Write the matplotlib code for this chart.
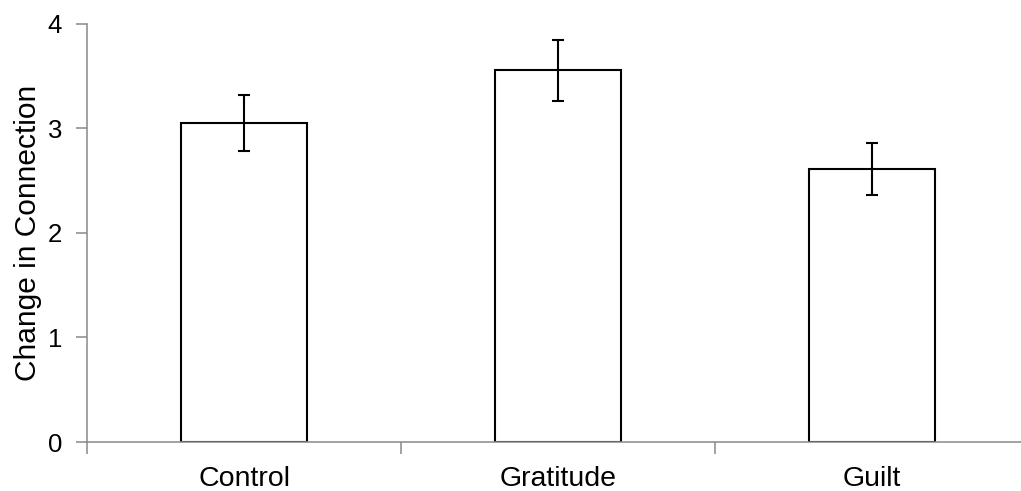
import matplotlib.pyplot as plt

plt.rcParams['font.family'] = ['Liberation Sans', 'DejaVu Sans']

categories = ["Control", "Gratitude", "Guilt"]
means = [3.05, 3.555, 2.61]
errors = [0.265, 0.29, 0.245]

axis_grey = "#898989"

fig = plt.figure(figsize=(10.21, 4.91), dpi=100)
ax = fig.add_axes([87 / 1021, 49 / 491, 942 / 1021, 418.3 / 491])

x = list(range(len(categories)))
ax.bar(x, means, width=0.4, color="white", edgecolor="black", linewidth=1.5, zorder=2)
ax.errorbar(x, means, yerr=errors, fmt="none", ecolor="black", elinewidth=1.5,
            capsize=4.5, capthick=1.5, zorder=3)

ax.set_xlim(-0.5, 2.5)
ax.set_ylim(0, 4)
ax.set_yticks([0, 1, 2, 3, 4])

# category labels sit between the boundary ticks
ax.set_xticks([-0.5, 0.5, 1.5, 2.5])
ax.set_xticklabels([])
ax.set_xticks(x, minor=True)
ax.set_xticklabels(categories, minor=True, fontsize=20.5)
ax.tick_params(axis="x", which="minor", length=0, pad=17)
ax.tick_params(axis="x", which="major", direction="out", length=8.5, width=1.1, color=axis_grey)
ax.tick_params(axis="y", direction="out", length=8, width=1.1, color=axis_grey,
               labelsize=18.5, pad=10)

for side in ["top", "right"]:
    ax.spines[side].set_visible(False)
for side in ["left", "bottom"]:
    ax.spines[side].set_color(axis_grey)
    ax.spines[side].set_linewidth(1.1)

ax.set_ylabel("Change in Connection", fontsize=21.5, labelpad=4)

fig.savefig("out.png", dpi=100)
